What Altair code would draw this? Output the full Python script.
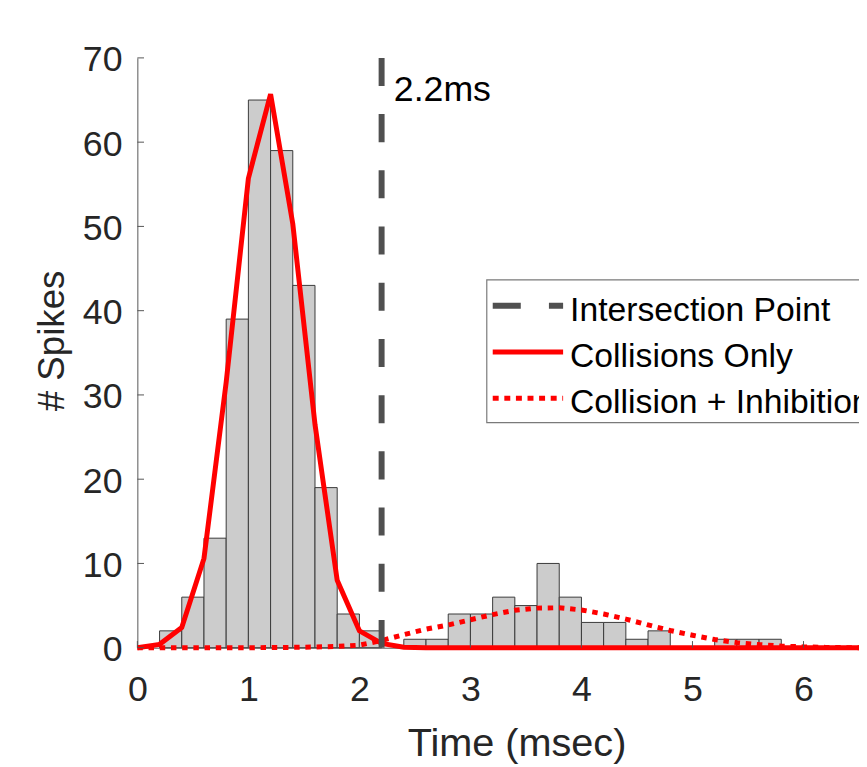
import altair as alt
import pandas as pd

# ---------------- data ----------------
bin_left = [0.2, 0.4, 0.6, 0.8, 1.0, 1.2, 1.4, 1.6, 1.8, 2.0, 2.2, 2.4, 2.6, 2.8,
            3.0, 3.2, 3.4, 3.6, 3.8, 4.0, 4.2, 4.4, 4.6, 4.8, 5.0, 5.2, 5.4, 5.6]
bin_width = 0.2
counts = [2, 6, 13, 39, 65, 59, 43, 19, 4, 2, 0, 1, 1, 4,
          4, 6, 5, 10, 6, 3, 3, 1, 2, 0, 0, 1, 1, 1]

curve_time = [0.0, 0.2, 0.4, 0.6, 0.8, 1.0, 1.2, 1.4, 1.6, 1.8, 2.0, 2.2, 2.4, 2.6,
              2.8, 3.0, 3.2, 3.4, 3.6, 3.8, 4.0, 4.2, 4.4, 4.6, 4.8, 5.0, 5.2, 5.4,
              5.6, 5.8, 6.0, 6.2, 6.4, 6.6, 6.8, 7.0]
collisions_only = [0, 0.4, 2.4, 10.6, 31.5, 55.7, 65.7, 50.3, 26.5, 8.0, 2.0, 0.5, 0.05, 0,
                   0, 0, 0, 0, 0, 0, 0, 0, 0, 0, 0, 0, 0, 0,
                   0, 0, 0, 0, 0, 0, 0, 0]
collision_inhibition = [0, 0, 0, 0, 0, 0, 0.02, 0.04, 0.08, 0.15, 0.3, 0.85, 1.55, 2.2,
                        2.7, 3.32, 3.93, 4.44, 4.7, 4.74, 4.48, 4.0, 3.4, 2.7, 2.04, 1.48, 0.97, 0.6,
                        0.37, 0.2, 0.1, 0.04, 0.01, 0, 0, 0]

intersection = 2.2
legend_labels = ["Intersection Point", "Collisions Only", "Collision + Inhibition"]
x_ticks = [0, 1, 2, 3, 4, 5, 6]
y_ticks = [0, 10, 20, 30, 40, 50, 60, 70]
x_title = "Time (msec)"
y_title = "# Spikes"

# ---------------- tables ----------------
hist_df = pd.DataFrame({
    "start": bin_left,
    "end": [round(b + bin_width, 3) for b in bin_left],
    "count": counts,
})
solid_df = pd.DataFrame({"t": curve_time, "v": collisions_only})
dotted_df = pd.DataFrame({"t": curve_time, "v": collision_inhibition})
inter_df = pd.DataFrame({"x": [intersection], "top": [y_ticks[-1]], "bottom": [0],
                         "label": [f"{intersection}ms"]})
xt_df = pd.DataFrame({"v": x_ticks})
yt_df = pd.DataFrame({"v": y_ticks})

W, H = 728, 595
FONT = "Liberation Sans"
AX = "#555555"

xs = alt.Scale(domain=[0, 6.5], nice=False, zero=False)
ys = alt.Scale(domain=[0, 70], nice=False, zero=False)

xaxis = alt.Axis(
    values=x_ticks, title=x_title, grid=False, ticks=False, tickSize=0,
    domainColor=AX, domainWidth=1, labelFont=FONT, labelFontSize=36,
    labelColor="#262626", labelBaseline="alphabetic", labelPadding=53,
    labelFlush=False, labelOverlap=False,
    titleFont=FONT, titleFontSize=40, titleFontWeight="normal", titleColor="#262626",
    titleX=382.5, titleY=109, titleAlign="center", titleBaseline="alphabetic")
yaxis = alt.Axis(
    values=y_ticks, title=y_title, grid=False, ticks=False, tickSize=0,
    domainColor=AX, domainWidth=1, labelFont=FONT, labelFontSize=36,
    labelColor="#262626", labelBaseline="alphabetic", labelOffset=13,
    labelAlign="right", labelPadding=15.5, labelFlush=False, labelOverlap=False,
    titleFont=FONT, titleFontSize=37, titleFontWeight="normal", titleColor="#262626",
    titleX=-74.5, titleY=285, titleAngle=270, titleAlign="center",
    titleBaseline="alphabetic")


def X(field):
    return alt.X(field, scale=xs, axis=xaxis, title=x_title)


def Y(field):
    return alt.Y(field, scale=ys, axis=yaxis, title=y_title)


bars = alt.Chart(hist_df).transform_filter("datum.count > 0").mark_rect(
    fill="#cccccc", stroke="#3a3a3a", strokeWidth=1
).encode(x=X("start:Q"), x2="end:Q", y=Y("count:Q"), y2=alt.datum(0))

solid = alt.Chart(solid_df).mark_line(color="#ff0000", strokeWidth=5).encode(
    x=X("t:Q"), y=Y("v:Q"))

dotted = alt.Chart(dotted_df).mark_line(color="#ff0000", strokeWidth=5,
                                        strokeDash=[5.5, 5.8]).encode(
    x=X("t:Q"), y=Y("v:Q"))

inter = alt.Chart(inter_df).mark_rule(color="#505050", strokeWidth=6,
                                      strokeDash=[28.3, 28.4]).encode(
    x=X("x:Q"), y=Y("top:Q"), y2="bottom:Q")

inter_text = alt.Chart(inter_df).mark_text(
    font=FONT, fontSize=36, align="left", baseline="alphabetic", dx=12.3, color="#000000"
).encode(x=X("x:Q"), y=alt.value(43), text="label:N")

xticks = alt.Chart(xt_df).mark_rule(color=AX, strokeWidth=1).encode(
    x=X("v:Q"), y=alt.value(H), y2=alt.value(H - 6.7))
yticks = alt.Chart(yt_df).mark_rule(color=AX, strokeWidth=1).encode(
    y=Y("v:Q"), x=alt.value(0), x2=alt.value(6.7))

# ---------------- legend (drawn manually) ----------------
leg_df = pd.DataFrame({"label": legend_labels})
leg_box = alt.Chart(leg_df.head(1)).mark_rect(
    fill="white", stroke="#7a7a7a", strokeWidth=1.2
).encode(x=alt.value(352.5), x2=alt.value(800), y=alt.value(224), y2=alt.value(368))

sym_styles = [
    dict(color="#505050", strokeWidth=6, strokeDash=[28.3, 28.4]),
    dict(color="#ff0000", strokeWidth=5),
    dict(color="#ff0000", strokeWidth=5, strokeDash=[6, 5.7]),
]
sym_y = [250, 296.7, 343.3]
txt_y = [265, 311.7, 358]
leg_layers = [leg_box]
for i, lab in enumerate(legend_labels):
    row = pd.DataFrame({"label": [lab]})
    leg_layers.append(alt.Chart(row).mark_rule(**sym_styles[i]).encode(
        x=alt.value(358.5), x2=alt.value(429.5), y=alt.value(sym_y[i])))
    leg_layers.append(alt.Chart(row).mark_text(
        font=FONT, fontSize=34, align="left", baseline="alphabetic", color="#000000"
    ).encode(x=alt.value(436.5), y=alt.value(txt_y[i]), text="label:N"))

chart = alt.layer(
    bars, solid, dotted, inter, xticks, yticks, inter_text, *leg_layers
).properties(
    width=W, height=H,
    autosize=alt.AutoSizeParams(type="none"),
    padding={"left": 130.5, "top": 47, "right": 0, "bottom": 117},
    background="white",
).configure_view(stroke=None)

chart.save("out.html", embed_options={"renderer": "svg", "actions": False})
